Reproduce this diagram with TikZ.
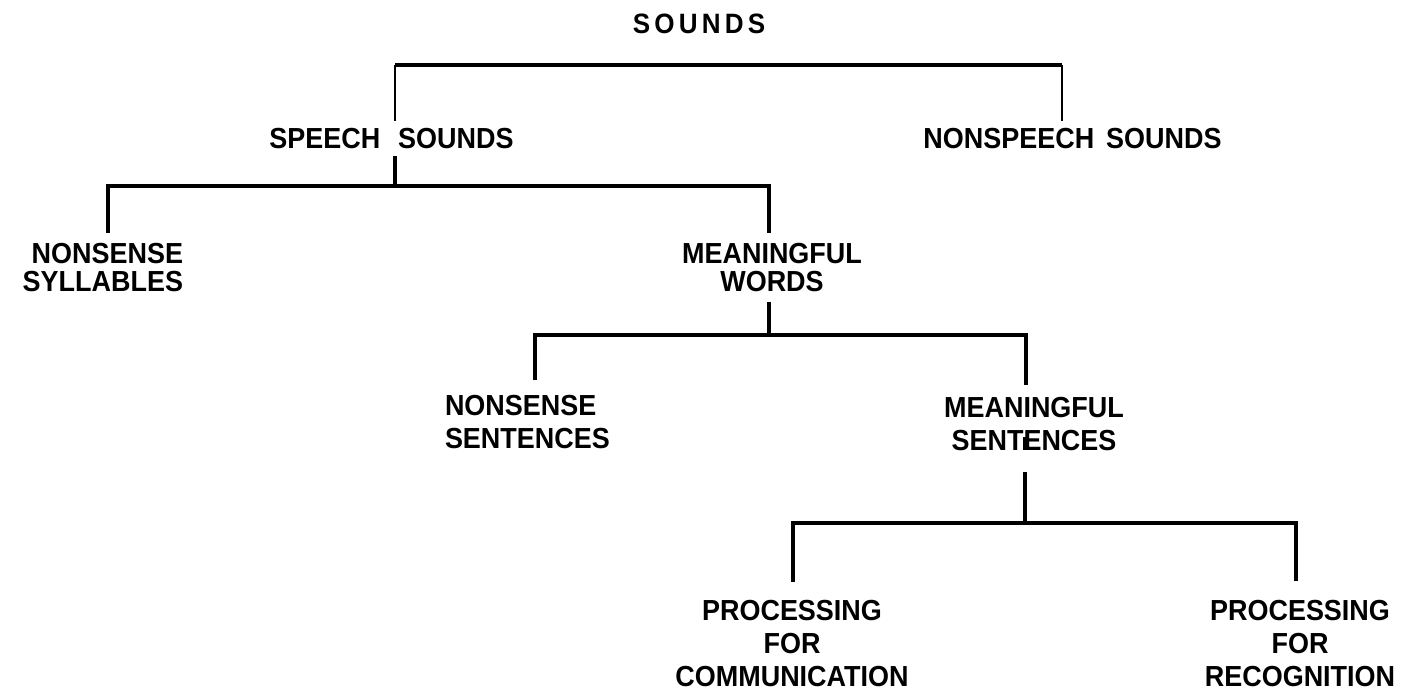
\documentclass[tikz,border=0pt]{standalone}
\usepackage{fontspec}
\setmainfont{Liberation Sans}[FakeStretch=0.93]
\newfontfamily\spacedfont{Liberation Sans}[FakeStretch=0.93,LetterSpace=15]
\begin{document}
\begin{tikzpicture}[x=1pt,y=-1pt,
  lbl/.style={inner sep=0pt, outer sep=0pt, font=\bfseries\fontsize{29}{28}\selectfont},
  lbllow/.style={inner sep=0pt, outer sep=0pt, font=\bfseries\fontsize{29}{33}\selectfont},
  toplbl/.style={inner sep=0pt, outer sep=0pt, font=\spacedfont\bfseries\fontsize{28}{28}\selectfont},
  bar/.style={line width=3.5pt, line join=miter},
  topbar/.style={line width=4pt},
  thinline/.style={line width=2pt}]
\useasboundingbox (0,0) rectangle (1423,699);

% labels (multi-line nodes: base = baseline of last line)
\node[toplbl, anchor=base] (sounds) at (699,33) {SOUNDS};
\node[lbl, anchor=base] (speech) at (391.5,148) {SPEECH\hspace{18pt}SOUNDS};
\node[lbl, anchor=base] (nonspeech) at (1072.5,148) {NONSPEECH\hspace{12pt}SOUNDS};
\node[lbl, anchor=base east, align=right] (nsyl) at (183,291) {NONSENSE\\SYLLABLES};
\node[lbl, anchor=base, align=center] (mwords) at (772,291) {MEANINGFUL\\WORDS};
\node[lbllow, anchor=base west, align=left] (nsent) at (445,448) {NONSENSE\\SENTENCES};
\node[lbllow, anchor=base, align=center] (msent) at (1034,450) {MEANINGFUL\\SENTENCES};
\node[lbllow, anchor=base, align=center] (pcomm) at (792,686) {PROCESSING\\FOR\\COMMUNICATION};
\node[lbllow, anchor=base, align=center] (precog) at (1300,686) {PROCESSING\\FOR\\RECOGNITION};

% connector points
\coordinate (t1l) at (395,65);
\coordinate (t1r) at (1062,65);
\coordinate (c1l) at (395,121);
\coordinate (c1r) at (1062,121);
\coordinate (s2a) at (395,156);
\coordinate (s2b) at (395,186);
\coordinate (t2l) at (108,186);
\coordinate (t2r) at (769,186);
\coordinate (c2l) at (108,233);
\coordinate (c2r) at (769,233);
\coordinate (s3a) at (769,302);
\coordinate (s3b) at (769,335);
\coordinate (t3l) at (535,335);
\coordinate (t3r) at (1026,335);
\coordinate (c3l) at (535,380);
\coordinate (c3r) at (1026,385);
\coordinate (s4x) at (1025,437);
\coordinate (s4y) at (1025,450);
\coordinate (s4a) at (1025,472);
\coordinate (s4b) at (1025,523);
\coordinate (t4l) at (793,523);
\coordinate (t4r) at (1296,523);
\coordinate (c4l) at (793,582);
\coordinate (c4r) at (1296,581);

% level 1
\draw[topbar] (t1l) -- (t1r);
\draw[thinline] (t1l) -- (c1l);
\draw[thinline] (t1r) -- (c1r);
% level 2
\draw[bar] (s2a) -- (s2b);
\draw[bar] (c2l) -- (t2l) -- (t2r) -- (c2r);
% level 3
\draw[bar] (s3a) -- (s3b);
\draw[bar] (c3l) -- (t3l) -- (t3r) -- (c3r);
% level 4
\draw[line width=4pt] (s4x) -- (s4y);
\draw[bar] (s4a) -- (s4b);
\draw[bar] (c4l) -- (t4l) -- (t4r) -- (c4r);
\end{tikzpicture}
\end{document}
